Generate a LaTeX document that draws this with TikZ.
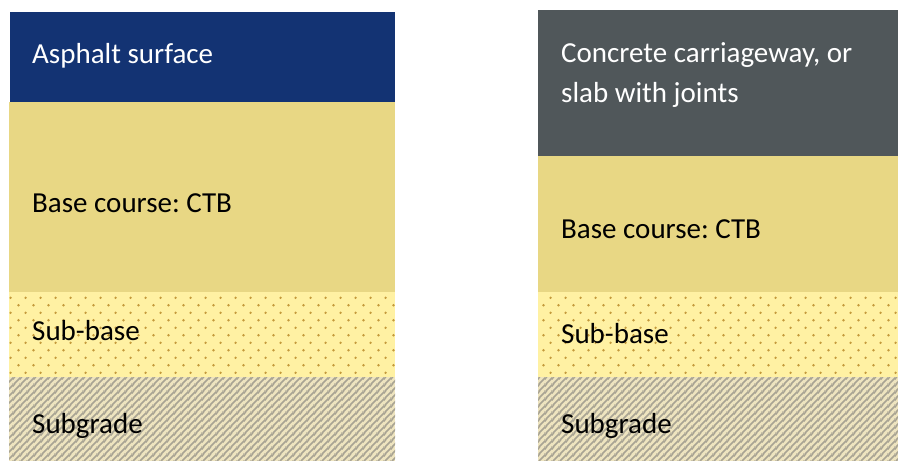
\documentclass[tikz,border=0pt]{standalone}
\usepackage{fontspec}
\setmainfont{Carlito}
\usepackage{tikz}
\usetikzlibrary{patterns.meta}
\frenchspacing

\definecolor{asphaltblue}{HTML}{133373}
\definecolor{concretegrey}{HTML}{50575A}
\definecolor{basesand}{HTML}{E8D784}
\definecolor{subyellow}{HTML}{FFF1A3}
\definecolor{dotbrown}{HTML}{C49A3C}
\definecolor{gradebeige}{HTML}{EEE4BF}
\definecolor{stripegrey}{HTML}{A8A393}

\pgfdeclarepattern{
  name=subdots, type=colored,
  bottom left={\pgfpoint{0pt}{0pt}},
  top right={\pgfpoint{15pt}{15.4pt}},
  tile size={\pgfpoint{15pt}{15.4pt}},
  code={
    \pgfsetfillcolor{dotbrown}
    \pgfpathcircle{\pgfpoint{3.75pt}{3.85pt}}{1.4pt}
    \pgfpathcircle{\pgfpoint{11.25pt}{11.55pt}}{1.4pt}
    \pgfusepath{fill}
  }}
\pgfdeclarepattern{
  name=gradelines, type=colored,
  bottom left={\pgfpoint{0pt}{0pt}},
  top right={\pgfpoint{7pt}{7pt}},
  tile size={\pgfpoint{7pt}{7pt}},
  code={
    \pgfsetstrokecolor{stripegrey}
    \pgfsetlinewidth{1.8pt}
    \pgfpathmoveto{\pgfpoint{-1pt}{-1pt}}\pgfpathlineto{\pgfpoint{8pt}{8pt}}
    \pgfpathmoveto{\pgfpoint{-1pt}{6pt}}\pgfpathlineto{\pgfpoint{1pt}{8pt}}
    \pgfpathmoveto{\pgfpoint{6pt}{-1pt}}\pgfpathlineto{\pgfpoint{8pt}{1pt}}
    \pgfusepath{stroke}
  }}

\tikzset{
  layertext/.style={anchor=base west, inner sep=0pt,
    font=\fontsize{29}{40}\selectfont, align=left},
  subbase/.style={fill=subyellow, postaction={pattern={subdots}}},
  subgrade/.style={fill=gradebeige, postaction={pattern={gradelines}}}
}

\begin{document}
\begin{tikzpicture}[x=1pt, y=-1pt]
  \useasboundingbox (0,0) rectangle (898,461);
  % left: asphalt pavement
  \fill [asphaltblue] (10,12) rectangle (395,102);
  \fill [basesand] (9,102) rectangle (395,292);
  \path [subbase] (9,292) rectangle (395,377);
  \path [subgrade] (9,377) rectangle (395,461);
  \node (asphalt) at (32,63) [layertext, text=white]{Asphalt surface};
  \node (baseL) at (32,212) [layertext]{Base course: CTB};
  \node (subbaseL) at (32,340) [layertext]{Sub-base};
  \node (subgradeL) at (32,433) [layertext]{Subgrade};
  % right: concrete pavement
  \fill [concretegrey] (538,10) rectangle (898,156);
  \fill [basesand] (538,156) rectangle (898,292);
  \path [subbase] (538,292) rectangle (898,377);
  \path [subgrade] (538,377) rectangle (898,461);
  \node (concrete) at (561,102) [layertext, text=white]{Concrete carriageway, or\\slab with joints};
  \node (baseR) at (561,238) [layertext]{Base course: CTB};
  \node (subbaseR) at (561,343) [layertext]{Sub-base};
  \node (subgradeR) at (561,433) [layertext]{Subgrade};
\end{tikzpicture}
\end{document}
